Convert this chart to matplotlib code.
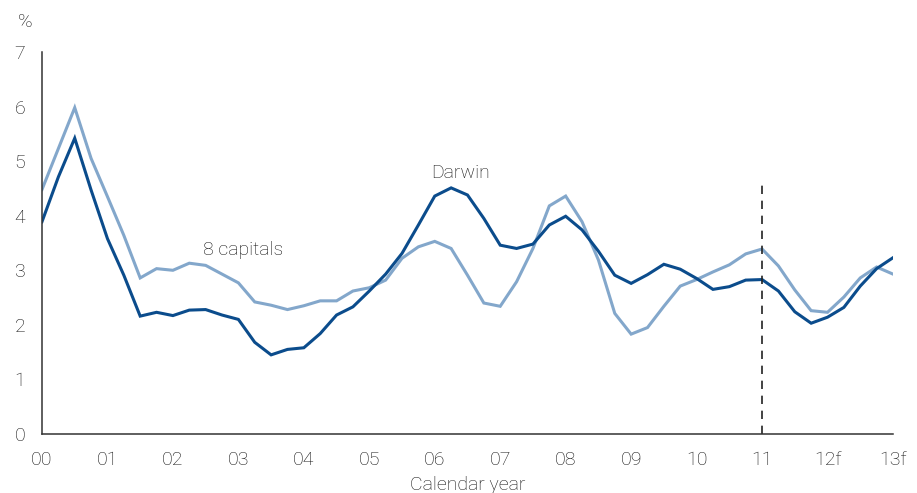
import matplotlib.pyplot as plt
import numpy as np

plt.rcParams['font.family'] = ['Roboto', 'DejaVu Sans']
plt.rcParams['font.weight'] = 'light'

# quarterly growth, % (2000 Q1 .. 2013 Q1)
darwin = [3.89, 4.71, 5.42, 4.47, 3.58, 2.91, 2.16, 2.23, 2.17, 2.27,
          2.28, 2.18, 2.10, 1.68, 1.45, 1.55, 1.58, 1.84, 2.18, 2.33,
          2.62, 2.93, 3.31, 3.83, 4.36, 4.51, 4.38, 3.95, 3.46, 3.40,
          3.48, 3.83, 3.99, 3.74, 3.35, 2.91, 2.76, 2.92, 3.11, 3.02,
          2.85, 2.65, 2.70, 2.82, 2.83, 2.62, 2.24, 2.03, 2.14, 2.32,
          2.71, 3.03, 3.23]
capitals = [4.48, 5.23, 5.98, 5.05, 4.35, 3.64, 2.86, 3.03, 3.00, 3.13,
            3.09, 2.93, 2.77, 2.42, 2.36, 2.28, 2.35, 2.44, 2.44, 2.62,
            2.68, 2.82, 3.22, 3.43, 3.53, 3.40, 2.91, 2.40, 2.34, 2.79,
            3.40, 4.18, 4.36, 3.89, 3.19, 2.21, 1.83, 1.95, 2.34, 2.71,
            2.83, 2.97, 3.10, 3.30, 3.39, 3.08, 2.64, 2.26, 2.23, 2.51,
            2.86, 3.06, 2.93]
year_labels = ['00', '01', '02', '03', '04', '05', '06', '07', '08', '09',
               '10', '11', '12f', '13f']
forecast_start = 11

x = np.arange(len(darwin)) / 4.0
txt = '#111111'

fig = plt.figure(figsize=(9.17, 4.93), dpi=100)
ax = fig.add_axes([0.0458, 0.1197, 0.9280, 0.7748])

ax.plot(x, capitals, color='#83a7cb', lw=2.2, solid_joinstyle='miter')
ax.plot(x, darwin, color='#0b4c8c', lw=2.2, solid_joinstyle='miter')
ax.plot([forecast_start, forecast_start], [0, 4.62], color='#222222',
        lw=1.2, ls=(0, (5, 4)))

ax.text(3.07, 3.37, '8 capitals', fontsize=14, color=txt,
        ha='center', va='center')
ax.text(6.39, 4.79, 'Darwin', fontsize=14, color=txt,
        ha='center', va='center')

ax.set_xlim(0, 13)
ax.set_ylim(0, 7)
ax.set_xticks(range(len(year_labels)))
ax.set_xticklabels(year_labels)
ax.set_yticks(range(8))
ax.tick_params(length=0, labelsize=14, labelcolor=txt)
ax.tick_params(axis='x', pad=12)
ax.tick_params(axis='y', pad=12)
for side in ['top', 'right']:
    ax.spines[side].set_visible(False)
for side in ['left', 'bottom']:
    ax.spines[side].set_color('#333333')
    ax.spines[side].set_linewidth(1.1)

ax.set_xlabel('Calendar year', fontsize=14, color=txt, fontweight='light',
              labelpad=5)
fig.text(25 / 917, 1 - 22 / 493, '%', fontsize=14, color=txt,
         ha='center', va='center')

fig.savefig('out.png', dpi=100)
